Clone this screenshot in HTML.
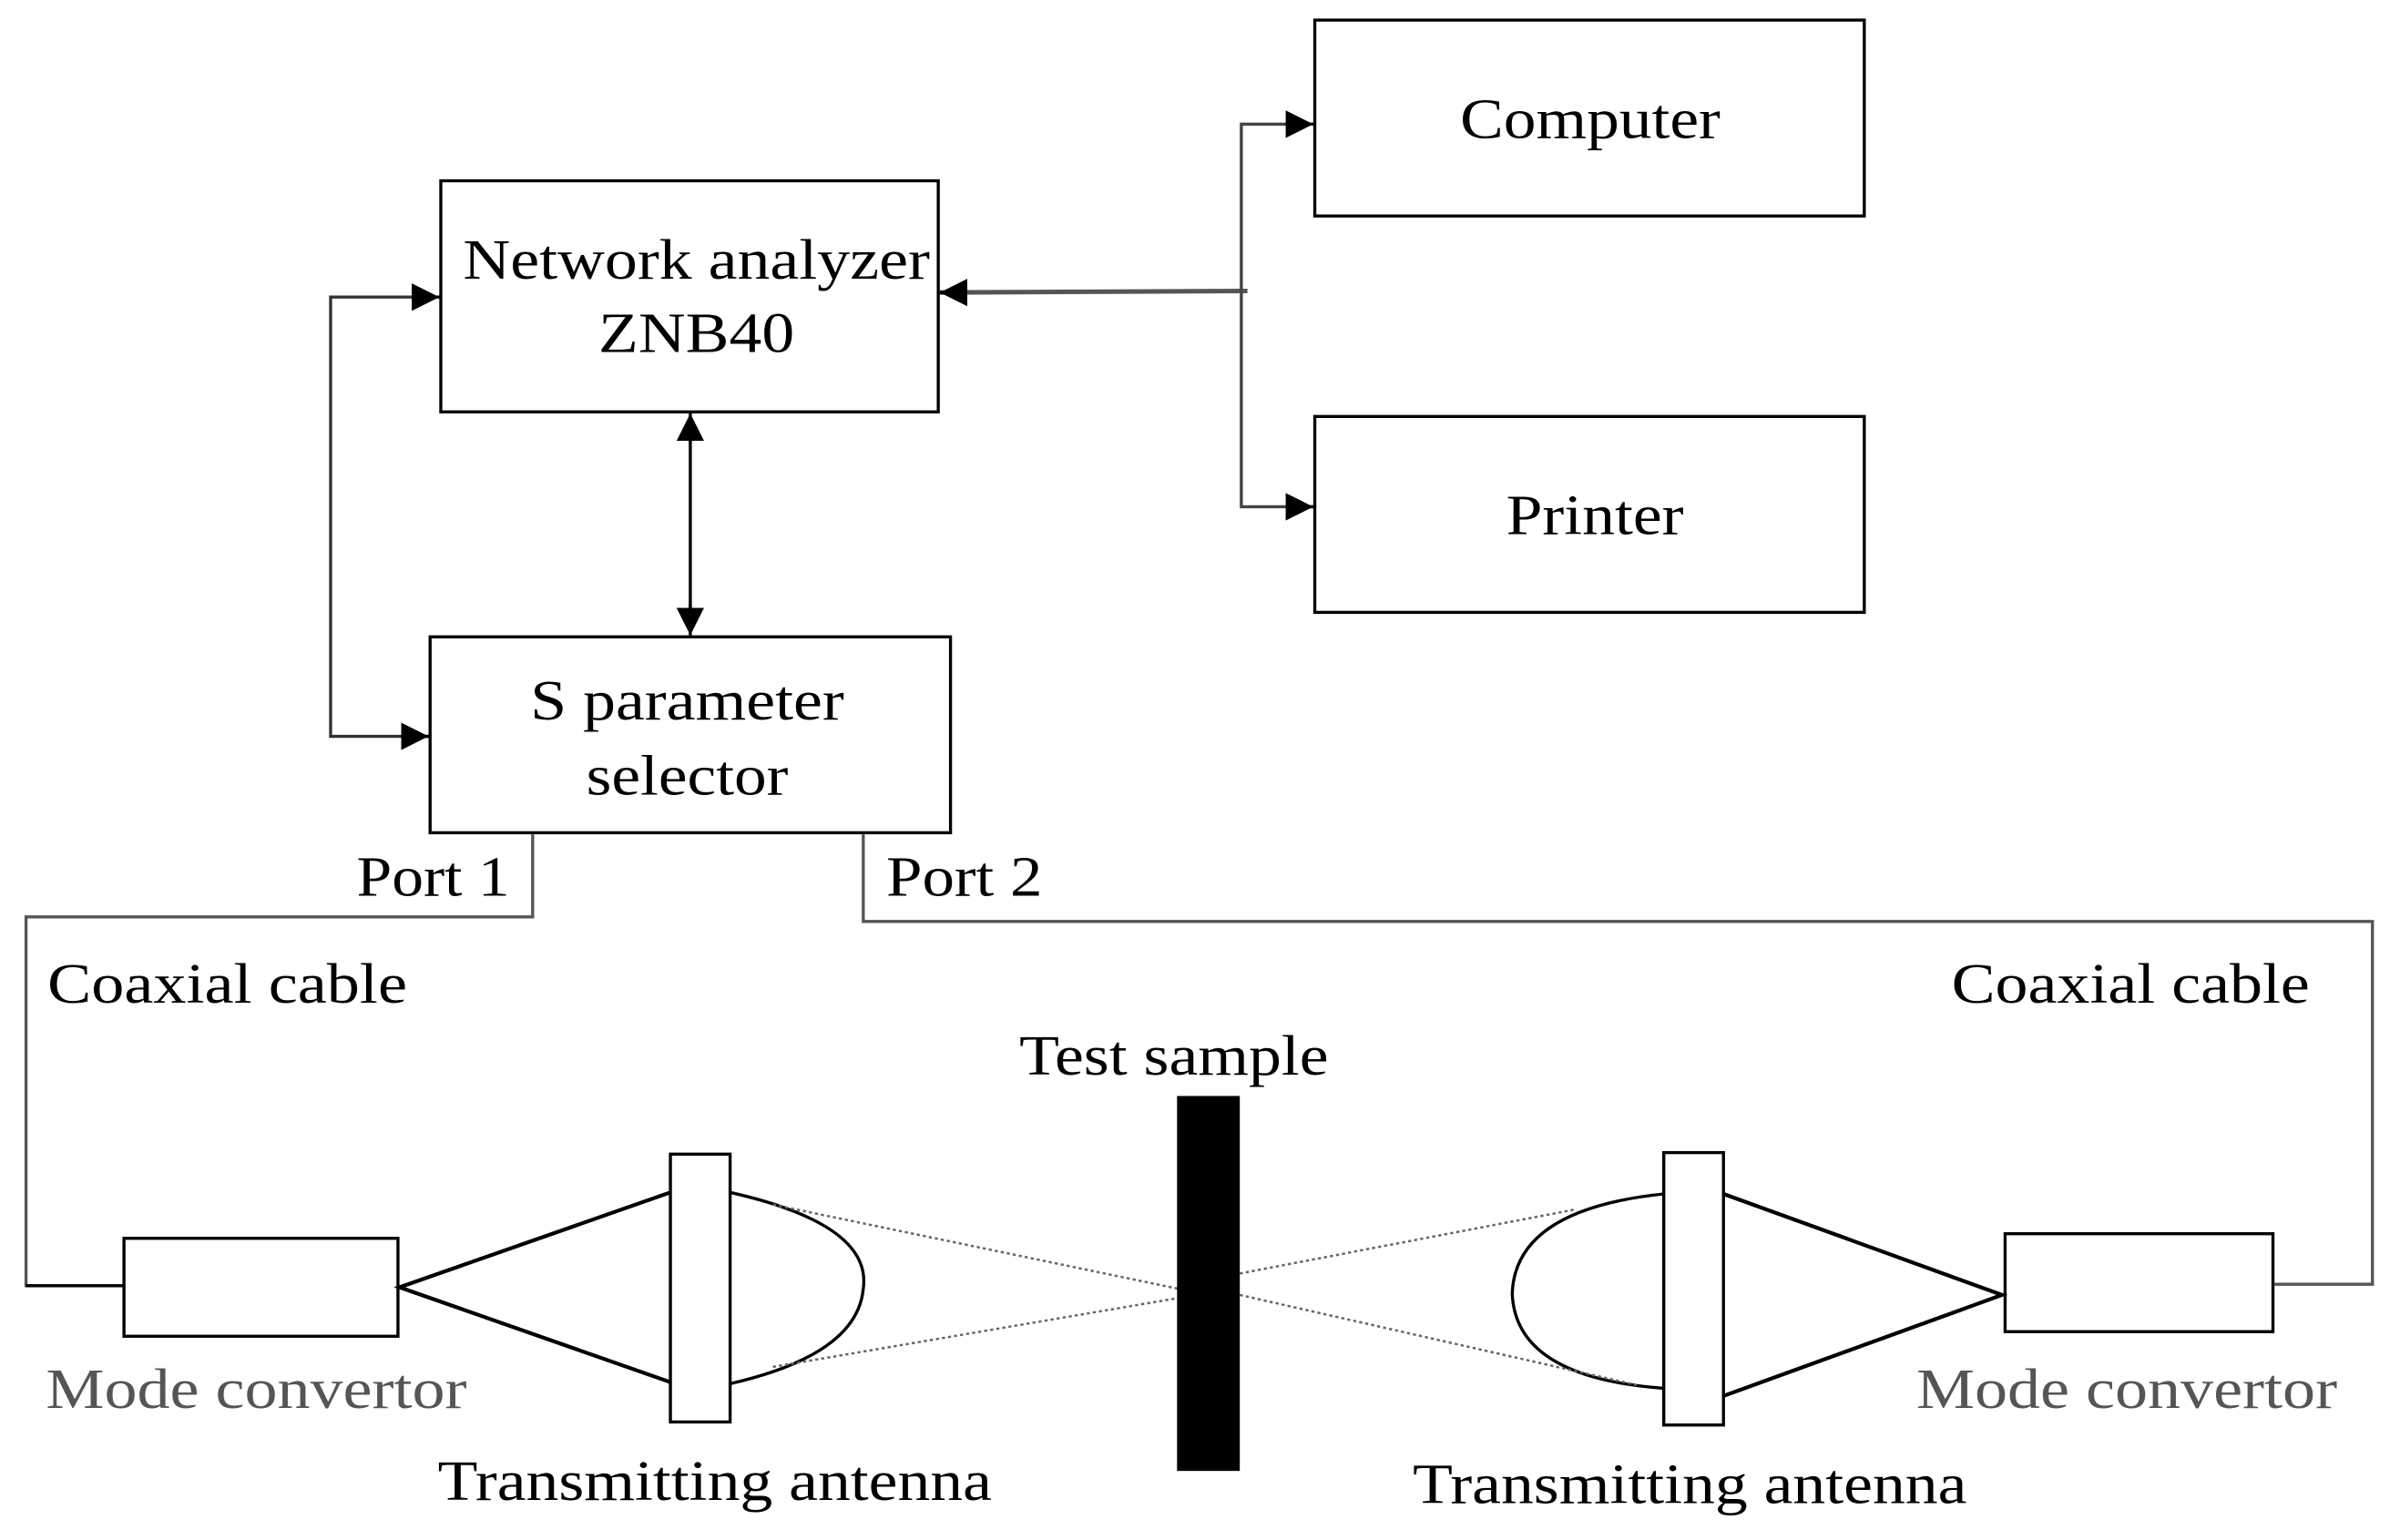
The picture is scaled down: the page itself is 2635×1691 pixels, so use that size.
<!DOCTYPE html>
<html><head><meta charset="utf-8"><style>html,body{margin:0;padding:0;background:#fff}svg{display:block}</style></head>
<body>
<svg width="2635" height="1691" viewBox="0 0 1568 1006" xmlns="http://www.w3.org/2000/svg" font-family="Liberation Serif, serif" font-size="37">
<defs>
<marker id="a" viewBox="0 0 10 10" refX="10" refY="5" markerWidth="18" markerHeight="18" markerUnits="userSpaceOnUse" orient="auto"><path d="M0,0L10,5L0,10z" fill="#000"/></marker>
</defs>
<g fill="none" stroke="#000" stroke-width="2">
<rect x="288" y="118" width="325" height="151"/>
<rect x="859" y="13" width="359" height="128"/>
<rect x="859" y="272" width="359" height="128"/>
<rect x="281" y="416" width="340" height="128"/>
<polyline points="287,194 216,194 216,481 280,481" stroke="#333"/>
<line x1="270" y1="194" x2="287" y2="194" marker-end="url(#a)"/>
<line x1="265" y1="481" x2="280" y2="481" marker-end="url(#a)"/>
<line x1="451" y1="285" x2="451" y2="400"/>
<line x1="451" y1="290" x2="451" y2="270" marker-end="url(#a)"/>
<line x1="451" y1="395" x2="451" y2="415" marker-end="url(#a)"/>
<line x1="614" y1="191" x2="815" y2="190" stroke="#555" stroke-width="3"/>
<line x1="630" y1="191" x2="614" y2="191" marker-end="url(#a)"/>
<polyline points="858,81 811,81 811,331 858,331" stroke="#444"/>
<line x1="840" y1="81" x2="858" y2="81" marker-end="url(#a)"/>
<line x1="840" y1="331" x2="858" y2="331" marker-end="url(#a)"/>
<polyline points="348,545 348,599 17,599 17,840 80,840" stroke="#555"/>
<line x1="17" y1="840" x2="80" y2="840"/>
<polyline points="564,545 564,602 1550,602 1550,839 1486,839" stroke="#555"/>
<rect x="81" y="809" width="179" height="64"/>
<rect x="1310" y="806" width="175" height="64"/>
<polyline points="438,779 261,841 438,903" stroke-width="2.5"/>
<polyline points="1126,780 1308,846 1126,912" stroke-width="2.5"/>
<rect x="438" y="754" width="39" height="175"/>
<rect x="1087" y="753" width="39" height="178"/>
<path d="M477,779 Q570,800 564,842 Q560,885 477,904"/>
<path d="M1087,780 Q990,790 988,845 Q990,900 1087,907"/>
<g stroke="#666" stroke-dasharray="2,2" stroke-width="1.5">
<line x1="505" y1="787" x2="770" y2="842"/>
<line x1="505" y1="893" x2="770" y2="848"/>
<line x1="810" y1="832" x2="1030" y2="790"/>
<line x1="810" y1="846" x2="1070" y2="905"/>
</g>
</g>
<rect x="769" y="716" width="41" height="245" fill="#000"/>
<g fill="#000" text-anchor="middle" lengthAdjust="spacingAndGlyphs">
<text x="455" y="182" textLength="305" lengthAdjust="spacingAndGlyphs">Network analyzer</text>
<text x="455" y="230" textLength="128" lengthAdjust="spacingAndGlyphs">ZNB40</text>
<text x="1039" y="90" textLength="170" lengthAdjust="spacingAndGlyphs">Computer</text>
<text x="1042" y="349" textLength="116" lengthAdjust="spacingAndGlyphs">Printer</text>
<text x="449" y="470" textLength="205" lengthAdjust="spacingAndGlyphs">S parameter</text>
<text x="449" y="519" textLength="132" lengthAdjust="spacingAndGlyphs">selector</text>
<text x="767" y="702" textLength="202" lengthAdjust="spacingAndGlyphs">Test sample</text>
<text x="467" y="980" textLength="362" lengthAdjust="spacingAndGlyphs">Transmitting antenna</text>
<text x="1104" y="982" textLength="362" lengthAdjust="spacingAndGlyphs">Transmitting antenna</text>
</g>
<g fill="#000">
<text x="233" y="585" textLength="100" lengthAdjust="spacingAndGlyphs">Port 1</text>
<text x="579" y="585" textLength="102" lengthAdjust="spacingAndGlyphs">Port 2</text>
<text x="31" y="655" textLength="235" lengthAdjust="spacingAndGlyphs">Coaxial cable</text>
<text x="1275" y="655" textLength="234" lengthAdjust="spacingAndGlyphs">Coaxial cable</text>
</g>
<g fill="#555">
<text x="30" y="920" textLength="275" lengthAdjust="spacingAndGlyphs">Mode convertor</text>
<text x="1252" y="920" textLength="275" lengthAdjust="spacingAndGlyphs">Mode convertor</text>
</g>
</svg>
</body></html>
